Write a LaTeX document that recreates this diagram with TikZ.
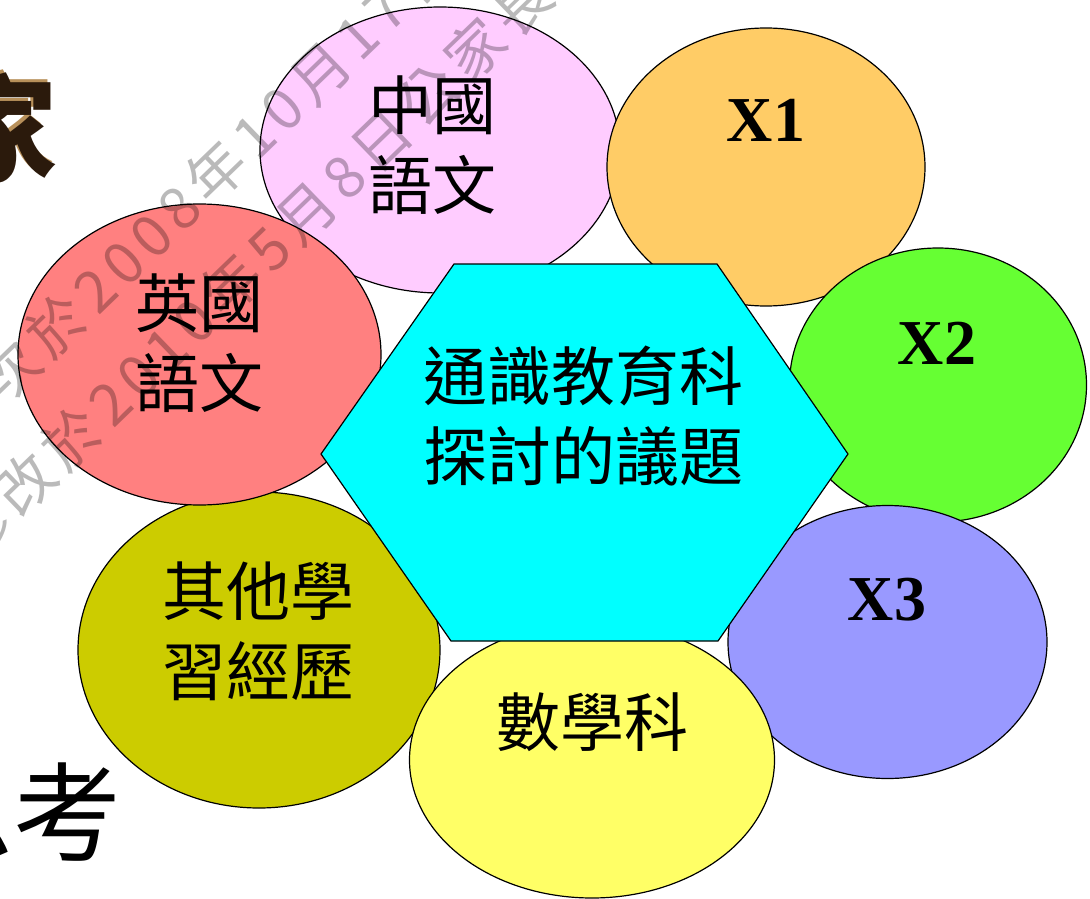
\documentclass[tikz,border=0pt]{standalone}
\usepackage{fontspec}
\setmainfont{Liberation Serif}
\newfontfamily\cjk{Noto Sans CJK TC}
\newfontfamily\cjkwm{Noto Sans CJK TC}[LetterSpace=12]
\usetikzlibrary{shapes.geometric}
\definecolor{cpink}{HTML}{FFCCFF}
\definecolor{cred}{HTML}{FF8080}
\definecolor{colive}{HTML}{CCCC00}
\definecolor{cyell}{HTML}{FFFF66}
\definecolor{clav}{HTML}{9999FF}
\definecolor{cgreen}{HTML}{66FF33}
\definecolor{corange}{HTML}{FFCC66}
\definecolor{ccyan}{HTML}{00FFFF}
\definecolor{cgold}{HTML}{B8905A}
\definecolor{cdark}{HTML}{2B1A0C}
\begin{document}
\begin{tikzpicture}[x=1pt,y=-1pt,
  ell/.style={ellipse, draw=black, line width=1.2pt, inner sep=0pt},
  lbl/.style={font=\cjk\fontsize{64}{80}\selectfont, align=center, inner sep=0pt},
  xl/.style={font=\bfseries\fontsize{64}{64}\selectfont, inner sep=0pt},
  wm/.style={font=\cjkwm\fontsize{58}{58}\selectfont, text=black, text opacity=0.27, rotate=44, anchor=base west, inner sep=0pt}]
\useasboundingbox (0,0) rectangle (1090,899);
\clip (0,0) rectangle (1090,899);
% partial title characters at the left edge
\node[font=\cjk\bfseries\fontsize{115}{115}\selectfont, text=cgold, anchor=east, inner sep=0pt] (jiash) at (55,125) {家};
\node[font=\cjk\bfseries\fontsize{115}{115}\selectfont, text=cdark, anchor=east, inner sep=0pt] (jia) at (58,128) {家};
\node[font=\cjk\fontsize{108}{108}\selectfont, anchor=east, inner sep=0pt] (sikao) at (122,812) {思考};
% ellipses
\node[ell, fill=cpink, minimum width=360pt, minimum height=286pt] (chi) at (440,150) {};
\node[ell, fill=corange, minimum width=318pt, minimum height=278pt] (xa) at (766,167) {};
\node[ell, fill=cgreen, minimum width=297pt, minimum height=274pt] (xb) at (938,385) {};
\node[ell, fill=clav, minimum width=319pt, minimum height=273pt] (xc) at (887.5,642) {};
\node[ell, fill=colive, minimum width=362pt, minimum height=316pt] (oth) at (259,650) {};
\node[ell, fill=cred, minimum width=363pt, minimum height=301pt] (eng) at (199.5,354.5) {};
\node[ell, fill=cyell, minimum width=365pt, minimum height=276pt] (mat) at (592,760) {};
% hexagon
\coordinate (h1) at (321,454);
\coordinate (h2) at (454,264);
\coordinate (h3) at (717,264);
\coordinate (h4) at (848,454);
\coordinate (h5) at (718,641);
\coordinate (h6) at (451,641);
\draw[fill=ccyan, line width=1.2pt, line join=miter] (h1) -- (h2) -- (h3) -- (h4) -- (h5) -- (h6) -- cycle;
% labels
\node[lbl] (tchi) at (432,145) {中國\\語文};
\node[lbl] (teng) at (199,343) {英國\\語文};
\node[lbl] (tmain) at (583,416) {通識教育科\\探討的議題};
\node[lbl] (toth) at (258,631) {其他學\\習經歷};
\node[lbl] (tmat) at (592,722) {數學科};
\node[xl] (txa) at (766,120) {X1};
\node[xl] (txb) at (937,343) {X2};
\node[xl] (txc) at (887,600) {X3};
% watermark
\node[wm] (wma) at (-42,452) {首次於2008年10月17日家長會};
\node[wm] (wmb) at (-27,565) {修改於2010年5月8日公家長};
\end{tikzpicture}
\end{document}
